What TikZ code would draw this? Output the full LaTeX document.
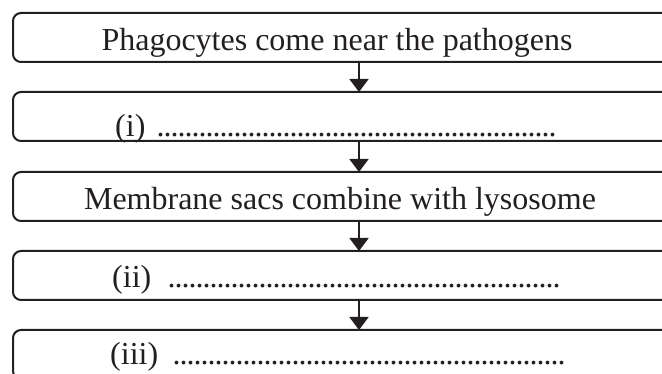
\documentclass[tikz,border=0pt]{standalone}
\usepackage{fontspec}
\setmainfont{Liberation Serif}
\usetikzlibrary{arrows.meta}
\definecolor{ink}{RGB}{35,31,32}
\newcommand{\blankline}[2]{\hbox to #1{#2\kern 11pt\leaders\hbox to 7pt{\hss.\hss}\hfill}}
\tikzset{
  stepbox/.style={draw=ink, line width=2pt, rounded corners=8pt, minimum width=692pt,
    minimum height=49pt, inner sep=0pt, outer sep=0pt, anchor=north west},
  steptext/.style={text=ink, inner sep=0pt},
  flowarrow/.style={draw=ink, line width=2pt, -{Triangle[width=19pt,length=13pt]}}
}
\begin{document}
\begin{tikzpicture}[x=1pt, y=-1pt, every node/.style={font=\fontsize{32}{36}\selectfont}]
    \useasboundingbox (0,0) rectangle (662,374);
    \clip (0,0) rectangle (662,374);
    % Cajas de los pasos
    \foreach \i/\y in {1/13, 2/92, 3/172, 4/251, 5/330} {
        \node[stepbox] (b\i) at (13,\y) {};
    }
    % Flechas entre pasos
    \foreach \i/\j in {1/2, 2/3, 3/4, 4/5} {
        \draw[flowarrow] (b\i.south) -- (b\j.north);
    }
    % Textos
    \node[steptext, anchor=base] (t1) at (337,50.7) {Phagocytes come near the pathogens};
    \node[steptext, anchor=base west] (t2) at (115,137) {\blankline{446pt}{(i)}};
    \node[steptext, anchor=base] (t3) at (340,209.5) {Membrane sacs combine with lysosome};
    \node[steptext, anchor=base west] (t4) at (112,288) {\blankline{453pt}{(ii)}};
    \node[steptext, anchor=base west] (t5) at (110,364) {\blankline{459pt}{(iii)}};
\end{tikzpicture}
\end{document}
